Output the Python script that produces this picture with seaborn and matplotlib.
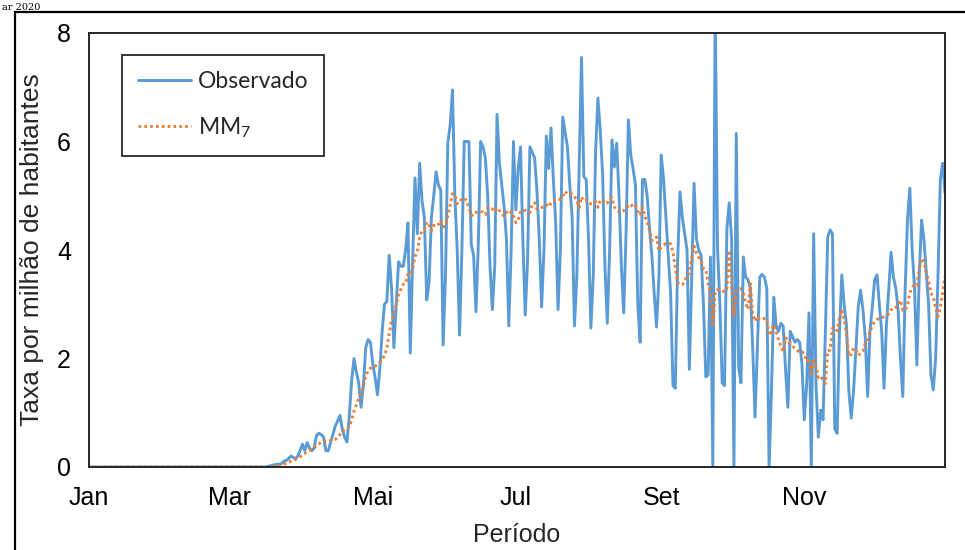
import matplotlib
matplotlib.use("Agg")
import matplotlib.pyplot as plt
import numpy as np
import pandas as pd
import seaborn as sns
from matplotlib.patches import Rectangle
from matplotlib.font_manager import FontProperties

# ---------------- data (daily rate per million inhabitants, 2020) ----------------
dias = pd.date_range("2020-01-01", "2020-12-31", freq="D")

# Jan 1 .. Mar 21 (before the first deaths)
inicio = [0.0] * 76 + [0.01, 0.02, 0.03, 0.04, 0.05]

# weeks Sunday..Saturday from Mar 22 onward
semanas = [
    [0.05, 0.06, 0.10, 0.12, 0.15, 0.20, 0.18],
    [0.15, 0.20, 0.30, 0.42, 0.30, 0.45, 0.35],
    [0.30, 0.35, 0.58, 0.62, 0.60, 0.55, 0.30],
    [0.30, 0.45, 0.60, 0.75, 0.85, 0.95, 0.70],
    [0.55, 0.46, 0.95, 1.60, 2.00, 1.75, 1.55],
    [1.10, 1.50, 2.20, 2.35, 2.30, 1.90, 1.65],
    [1.33, 1.80, 2.50, 3.00, 3.05, 3.90, 3.30],
    [2.20, 3.00, 3.78, 3.70, 3.70, 4.00, 4.50],
    [2.10, 3.80, 5.33, 4.30, 5.60, 4.90, 4.60],
    [3.08, 3.40, 4.60, 5.00, 5.44, 5.20, 5.10],
    [2.25, 3.50, 5.97, 6.30, 6.95, 5.00, 4.00],
    [2.43, 4.00, 6.00, 6.00, 6.00, 4.10, 3.90],
    [2.86, 4.10, 6.00, 5.90, 5.70, 5.00, 3.70],
    [2.90, 3.70, 6.50, 5.60, 5.20, 4.80, 4.20],
    [2.60, 4.00, 6.00, 4.74, 5.50, 5.90, 4.20],
    [2.80, 3.80, 5.90, 5.80, 5.70, 5.10, 4.20],
    [2.95, 4.00, 6.10, 5.50, 6.25, 5.30, 4.50],
    [2.90, 4.00, 6.45, 6.17, 5.90, 5.20, 4.60],
    [2.60, 3.50, 5.50, 7.55, 5.35, 5.30, 4.20],
    [2.56, 3.50, 5.80, 6.80, 6.20, 5.40, 3.70],
    [2.65, 4.00, 6.03, 5.53, 5.97, 5.00, 3.70],
    [2.84, 4.30, 6.40, 5.75, 5.50, 5.20, 3.00],
    [2.30, 5.30, 5.30, 5.00, 4.40, 3.90, 3.20],
    [2.58, 3.50, 5.75, 5.30, 4.60, 3.90, 3.20],
    [1.50, 1.45, 3.80, 5.07, 4.60, 4.30, 4.00],
    [1.80, 3.50, 5.23, 4.20, 4.00, 3.90, 3.00],
    [1.66, 1.70, 3.87, 0.00, 8.60, 4.05, 3.00],
    [1.55, 1.50, 4.40, 4.87, 4.20, 0.00, 6.15],
    [1.84, 1.55, 3.87, 3.50, 3.45, 3.30, 2.20],
    [0.92, 2.20, 3.50, 3.55, 3.50, 3.30, 0.00],
    [1.40, 3.13, 2.60, 2.50, 2.65, 2.60, 1.80],
    [1.10, 2.50, 2.40, 2.30, 2.35, 2.30, 1.90],
    [0.87, 1.50, 2.84, 0.00, 4.30, 1.50, 0.55],
    [1.05, 0.87, 2.50, 4.24, 4.37, 4.30, 0.70],
    [0.62, 2.50, 3.54, 3.00, 2.60, 1.40, 0.90],
    [1.40, 2.15, 2.95, 3.26, 2.90, 2.40, 1.30],
    [2.50, 2.95, 3.45, 3.54, 3.00, 2.50, 1.45],
    [2.60, 3.26, 3.96, 3.50, 3.30, 2.90, 2.00],
    [1.30, 3.26, 4.55, 5.14, 4.00, 3.30, 1.88],
    [3.50, 4.55, 4.20, 3.60, 3.00, 1.70, 1.42],
    [2.00, 3.50, 5.30, 5.60, 5.05],
]

observado = inicio + [v for s in semanas for v in s]

meses_ticks = ["2020-01-01", "2020-03-01", "2020-05-01", "2020-07-01", "2020-09-01", "2020-11-01"]
meses_rotulos = ["Jan", "Mar", "Mai", "Jul", "Set", "Nov"]
y_ticks = [0, 2, 4, 6, 8]

df = pd.DataFrame({"data": dias, "Observado": observado})
df["MM7"] = df["Observado"].rolling(7).mean()

# ---------------- style ----------------
sns.set_theme(style="white")
plt.rcParams["font.family"] = ["Liberation Sans", "DejaVu Sans"]
plt.rcParams["mathtext.fontset"] = "custom"
plt.rcParams["mathtext.rm"] = "Lato"
plt.rcParams["mathtext.default"] = "rm"

fig = plt.figure(figsize=(9.65, 5.5), dpi=100)
fig.patch.set_facecolor("white")
ax = fig.add_axes([89 / 965, 1 - 467 / 550, 856 / 965, 434 / 550])

sns.lineplot(data=df, x="data", y="Observado", ax=ax, color="#5B9BD5",
             linewidth=2.1, label="Observado")
sns.lineplot(data=df, x="data", y="MM7", ax=ax, color="#ED7D31",
             linewidth=2.1, linestyle=(0, (0.9, 1.1)), label="MM$_7$")

ax.set_xlim(dias[0], dias[-1])
ax.set_ylim(0, 8)
ax.set_yticks(y_ticks)
ax.set_yticklabels([str(t) for t in y_ticks])
ax.set_xticks(pd.to_datetime(meses_ticks))
ax.set_xticklabels(meses_rotulos)
ax.tick_params(axis="both", length=0, labelsize=18, colors="black")
ax.tick_params(axis="y", pad=13)
ax.tick_params(axis="x", pad=14)

for sp in ax.spines.values():
    sp.set_visible(True)
    sp.set_color("#262626")
    sp.set_linewidth(1.4)

ax.set_xlabel("Período", fontsize=18, color="#262626")
ax.set_ylabel("Taxa por milhão de habitantes", fontsize=19, color="#262626")
ax.xaxis.set_label_coords(0.5, -0.157)
ax.xaxis.label.set_va("center")
ax.yaxis.set_label_coords(-0.0666, 0.5)
ax.yaxis.label.set_va("center")

leg = ax.legend(loc="upper left", bbox_to_anchor=(0.0386, 0.949), frameon=True,
                fancybox=False, framealpha=1, edgecolor="#262626",
                prop=FontProperties(family="Lato", size=16.5),
                handlelength=2.3, handletextpad=0.3, labelspacing=1.0,
                borderpad=0.7, borderaxespad=0)
leg.get_frame().set_linewidth(1.3)

# outer chart frame (cropped at right and bottom)
fig.patches.append(Rectangle((15 / 965, -0.05), 1.2, 1 - 12 / 550 + 0.05,
                             transform=fig.transFigure, fill=False,
                             edgecolor="black", linewidth=1.6))
fig.text(0.002, 1 - 9.5 / 550, "ar 2020", family="DejaVu Serif", fontsize=7,
         va="baseline", ha="left", color="black")

fig.savefig("out.png", dpi=100, facecolor="white")
